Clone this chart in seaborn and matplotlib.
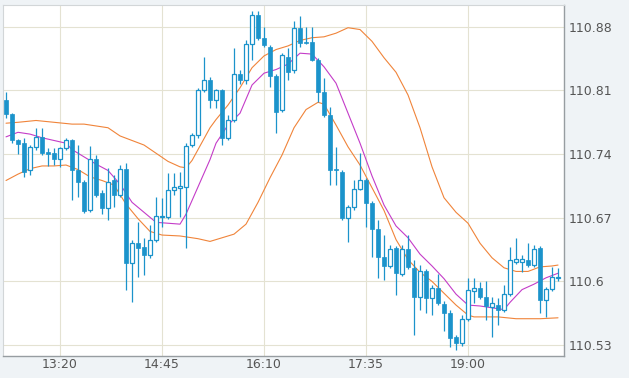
import matplotlib
matplotlib.use("Agg")
import pandas as pd
import matplotlib.pyplot as plt
import seaborn as sns

# 5-minute candles from 12:35 to 20:15
opens = [110.799, 110.784, 110.756, 110.752, 110.722, 110.748, 110.759, 110.742, 110.741, 110.735,
         110.747, 110.756, 110.723, 110.709, 110.679, 110.735, 110.697, 110.681, 110.711, 110.695,
         110.724, 110.620, 110.642, 110.638, 110.629, 110.646, 110.671, 110.671, 110.701, 110.703,
         110.704, 110.750, 110.761, 110.811, 110.821, 110.800, 110.810, 110.758, 110.778, 110.828,
         110.821, 110.861, 110.893, 110.868, 110.858, 110.826, 110.789, 110.847, 110.832, 110.879,
         110.863, 110.863, 110.844, 110.808, 110.783, 110.724, 110.720, 110.670, 110.682, 110.702,
         110.712, 110.686, 110.658, 110.627, 110.617, 110.637, 110.608, 110.636, 110.615, 110.583,
         110.611, 110.582, 110.593, 110.575, 110.565, 110.539, 110.532, 110.559, 110.589, 110.593,
         110.583, 110.572, 110.574, 110.569, 110.586, 110.621, 110.621, 110.624, 110.618, 110.637,
         110.580, 110.592, 110.604]
highs = [110.808, 110.785, 110.757, 110.758, 110.750, 110.769, 110.769, 110.747, 110.747, 110.748,
         110.758, 110.757, 110.750, 110.712, 110.749, 110.739, 110.701, 110.725, 110.717, 110.728,
         110.730, 110.646, 110.665, 110.648, 110.662, 110.693, 110.692, 110.719, 110.719, 110.720,
         110.752, 110.763, 110.813, 110.847, 110.825, 110.812, 110.812, 110.783, 110.857, 110.833,
         110.866, 110.897, 110.897, 110.880, 110.860, 110.828, 110.851, 110.857, 110.886, 110.892,
         110.880, 110.880, 110.846, 110.824, 110.792, 110.748, 110.723, 110.684, 110.712, 110.741,
         110.714, 110.689, 110.668, 110.651, 110.640, 110.639, 110.640, 110.651, 110.624, 110.618,
         110.614, 110.596, 110.608, 110.578, 110.569, 110.541, 110.563, 110.604, 110.604, 110.599,
         110.600, 110.583, 110.582, 110.596, 110.638, 110.648, 110.629, 110.642, 110.640, 110.639,
         110.594, 110.616, 110.615]
lows = [110.780, 110.752, 110.740, 110.715, 110.717, 110.745, 110.739, 110.727, 110.728, 110.726,
        110.745, 110.690, 110.693, 110.675, 110.676, 110.693, 110.674, 110.668, 110.682, 110.693,
        110.591, 110.577, 110.605, 110.607, 110.626, 110.643, 110.660, 110.669, 110.695, 110.671,
        110.637, 110.748, 110.758, 110.808, 110.791, 110.791, 110.750, 110.756, 110.775, 110.817,
        110.817, 110.844, 110.866, 110.858, 110.814, 110.763, 110.786, 110.822, 110.829, 110.858,
        110.861, 110.842, 110.797, 110.781, 110.706, 110.706, 110.668, 110.643, 110.679, 110.700,
        110.660, 110.627, 110.604, 110.602, 110.615, 110.585, 110.606, 110.614, 110.541, 110.569,
        110.565, 110.563, 110.574, 110.546, 110.528, 110.525, 110.529, 110.556, 110.576, 110.581,
        110.558, 110.539, 110.552, 110.566, 110.584, 110.619, 110.610, 110.616, 110.616, 110.565,
        110.561, 110.589, 110.600]
closes = [110.784, 110.756, 110.751, 110.720, 110.748, 110.759, 110.741, 110.740, 110.735, 110.747,
          110.756, 110.723, 110.709, 110.678, 110.735, 110.695, 110.681, 110.709, 110.695, 110.724,
          110.620, 110.642, 110.637, 110.629, 110.646, 110.672, 110.672, 110.701, 110.704, 110.705,
          110.749, 110.761, 110.811, 110.821, 110.800, 110.810, 110.758, 110.778, 110.828, 110.821,
          110.861, 110.893, 110.868, 110.860, 110.826, 110.786, 110.849, 110.830, 110.879, 110.862,
          110.862, 110.844, 110.808, 110.783, 110.723, 110.722, 110.670, 110.682, 110.702, 110.712,
          110.686, 110.658, 110.627, 110.617, 110.636, 110.609, 110.636, 110.616, 110.583, 110.611,
          110.582, 110.593, 110.576, 110.565, 110.538, 110.532, 110.559, 110.591, 110.593, 110.583,
          110.573, 110.576, 110.569, 110.586, 110.624, 110.625, 110.625, 110.618, 110.636, 110.580,
          110.592, 110.605, 110.605]

# indicator lines, read at candle index
upper_idx = [0, 2, 5, 8, 11, 13, 15, 17, 19, 21, 23, 25, 27, 29, 30, 31, 32, 34, 35, 37,
             39, 41, 43, 45, 47, 49, 51, 53, 55, 57, 59, 61, 63, 65, 67, 69, 71, 73, 75, 77,
             79, 81, 83, 85, 87, 89, 91, 92]
upper_val = [110.774, 110.775, 110.777, 110.775, 110.773, 110.773, 110.771, 110.769, 110.760, 110.755,
             110.750, 110.741, 110.732, 110.726, 110.725, 110.733, 110.745, 110.769, 110.778, 110.794,
             110.813, 110.835, 110.848, 110.855, 110.859, 110.865, 110.868, 110.869, 110.873, 110.879,
             110.877, 110.864, 110.846, 110.830, 110.805, 110.769, 110.726, 110.692, 110.676, 110.664,
             110.642, 110.626, 110.615, 110.611, 110.611, 110.616, 110.617, 110.618]
lower_idx = [0, 2, 4, 6, 8, 10, 12, 14, 16, 18, 20, 22, 24, 26, 29, 32, 34, 36, 38, 40,
             42, 44, 46, 48, 50, 52, 53, 55, 57, 59, 61, 63, 65, 67, 69, 71, 73, 75, 77, 78,
             82, 85, 89, 92]
lower_val = [110.711, 110.718, 110.724, 110.727, 110.727, 110.728, 110.723, 110.715, 110.711, 110.706,
             110.685, 110.669, 110.655, 110.651, 110.650, 110.647, 110.644, 110.648, 110.652, 110.663,
             110.687, 110.714, 110.739, 110.769, 110.789, 110.797, 110.795, 110.772, 110.748, 110.728,
             110.703, 110.678, 110.646, 110.624, 110.610, 110.600, 110.587, 110.574, 110.563, 110.561,
             110.561, 110.559, 110.559, 110.560]
ma_idx = [0, 2, 4, 6, 8, 10, 11, 13, 15, 17, 19, 21, 23, 25, 27, 29, 30, 32, 34, 35,
          37, 39, 41, 43, 45, 47, 49, 51, 53, 55, 57, 59, 61, 63, 65, 67, 69, 71, 73, 75,
          77, 79, 81, 83, 84, 86, 88, 90, 92]
ma_val = [110.759, 110.764, 110.762, 110.758, 110.755, 110.752, 110.745, 110.737, 110.729, 110.722,
          110.707, 110.687, 110.676, 110.665, 110.664, 110.663, 110.674, 110.704, 110.734, 110.752,
          110.772, 110.785, 110.816, 110.829, 110.833, 110.839, 110.851, 110.850, 110.836, 110.818,
          110.785, 110.752, 110.716, 110.684, 110.661, 110.648, 110.630, 110.617, 110.603, 110.586,
          110.574, 110.573, 110.571, 110.569, 110.577, 110.591, 110.597, 110.604, 110.609]

x_labels = ["13:20", "14:45", "16:10", "17:35", "19:00"]
y_ticks = [110.53, 110.6, 110.67, 110.74, 110.81, 110.88]
y_labels = ["110.53", "110.6", "110.67", "110.74", "110.81", "110.88"]

BLUE = "#1b93cb"
ORANGE = "#f0843a"
MAGENTA = "#c43cc8"

sns.set_style("white")
plt.rcParams["font.family"] = ["DejaVu Sans"]

df = pd.DataFrame({"open": opens, "high": highs, "low": lows, "close": closes})
df["time"] = pd.date_range("2021-01-01 12:35", periods=len(df), freq="5min").strftime("%H:%M")
df["up"] = df["close"] >= df["open"]

fig = plt.figure(figsize=(6.29, 3.78), dpi=100)
fig.patch.set_facecolor("#eff3f6")
ax = fig.add_axes([0.0048, 0.0582, 0.8919, 0.9286])
ax.set_facecolor("white")

# bands and moving average
sns.lineplot(x=upper_idx, y=upper_val, ax=ax, color=ORANGE, linewidth=0.8, zorder=2)
sns.lineplot(x=lower_idx, y=lower_val, ax=ax, color=ORANGE, linewidth=0.8, zorder=2)
sns.lineplot(x=ma_idx, y=ma_val, ax=ax, color=MAGENTA, linewidth=0.8, zorder=2)

# candles
ax.vlines(df.index, df["low"], df["high"], color=BLUE, linewidth=0.9, zorder=3)
body_lo = df[["open", "close"]].min(axis=1)
body_h = (df["close"] - df["open"]).abs().clip(lower=0.0008)
up = df["up"]
ax.bar(df.index[up], body_h[up], bottom=body_lo[up], width=0.78,
       color="white", edgecolor=BLUE, linewidth=0.9, zorder=4)
ax.bar(df.index[~up], body_h[~up], bottom=body_lo[~up], width=0.82,
       color=BLUE, edgecolor=BLUE, linewidth=0.5, zorder=4)

ax.set_xlim(-0.5, 93)
ax.set_ylim(110.518, 110.904)

xt = [list(df["time"]).index(t) for t in x_labels]
ax.set_xticks(xt)
ax.set_xticklabels(x_labels)
ax.set_yticks(y_ticks)
ax.set_yticklabels(y_labels)
ax.yaxis.tick_right()
ax.tick_params(axis="both", length=0, labelsize=9, colors="#555555")
ax.tick_params(axis="y", pad=3)
ax.tick_params(axis="x", pad=1.5)

ax.grid(True, color="#e4e2d2", linewidth=0.8, zorder=0)
ax.set_axisbelow(True)

for side in ["top", "left"]:
    ax.spines[side].set_color("#d2d6d8")
    ax.spines[side].set_linewidth(0.8)
for side in ["right", "bottom"]:
    ax.spines[side].set_color("#979da1")
    ax.spines[side].set_linewidth(1.0)

ax.set_xlabel("")
ax.set_ylabel("")

fig.savefig("out.png", dpi=100, facecolor=fig.get_facecolor())
